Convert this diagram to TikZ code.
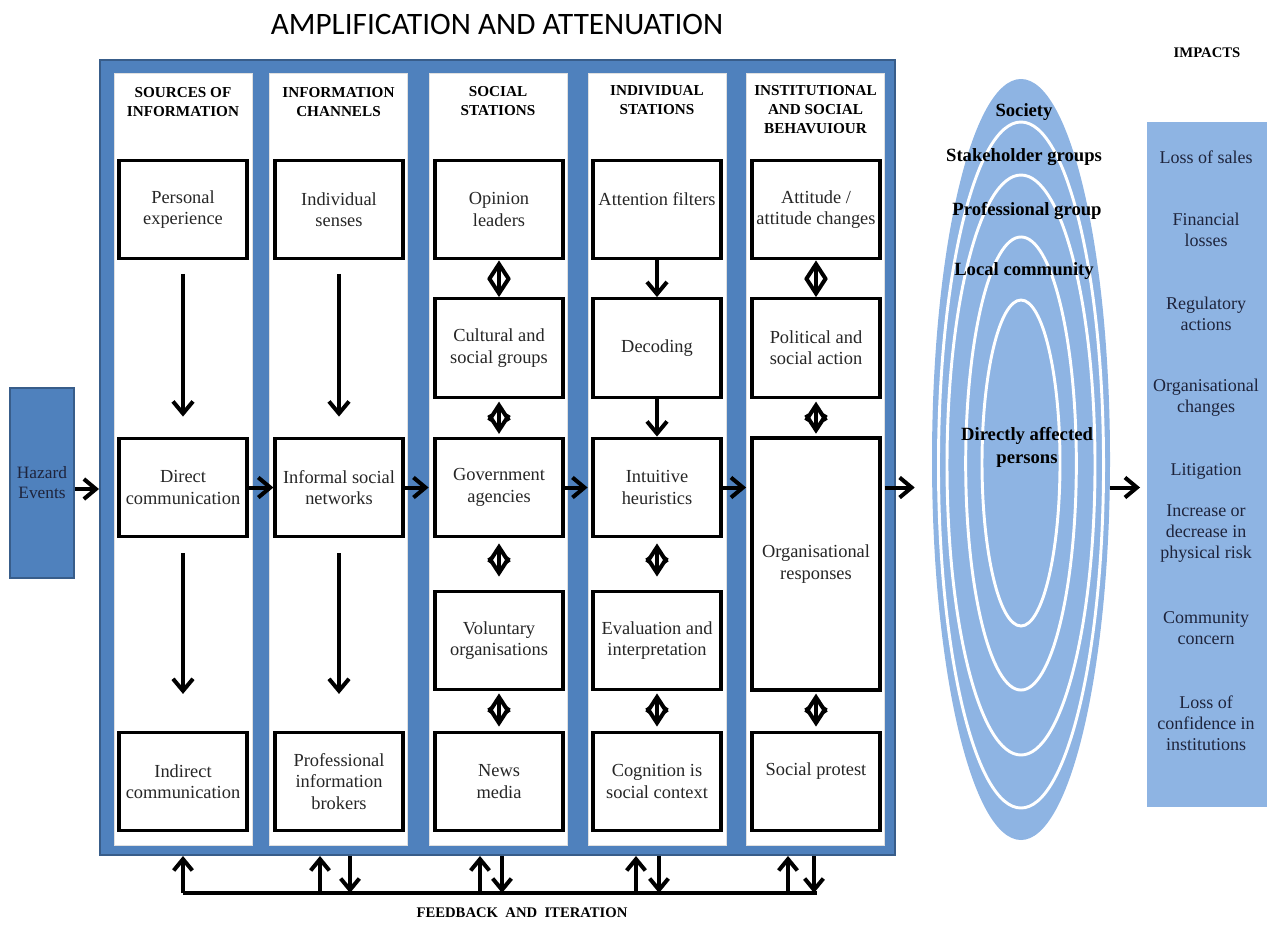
\documentclass[tikz,border=0pt]{standalone}
\usepackage{fontspec}
\setmainfont{Liberation Serif}
\newfontfamily\titlefont{Carlito}
\usetikzlibrary{arrows.meta,shapes.geometric}

\definecolor{frameblue}{RGB}{79,129,189}
\definecolor{frameedge}{RGB}{56,93,138}
\definecolor{ringblue}{RGB}{142,180,227}
\definecolor{inkdark}{RGB}{30,36,60}

\begin{document}
\begin{tikzpicture}[x=0.75pt,y=-0.75pt]

    \tikzset{
      panel/.style={
        fill=white,
        draw=black!12,
        line width=0.6pt,
        inner sep=0pt,
        minimum width=103.5pt,
        minimum height=579pt,
      },
      stage/.style={
        draw=black,
        fill=white,
        line width=2.4pt,
        inner sep=1pt,
        minimum width=96pt,
        minimum height=74pt,
        align=center,
        text=black!85,
        font=\fontsize{13.8}{16}\selectfont,
      },
      colhead/.style={
        anchor=north,
        inner sep=0pt,
        align=center,
        font=\fontsize{11.4}{14.3}\selectfont\bfseries,
      },
      ringlabel/.style={
        inner sep=0pt,
        align=center,
        font=\fontsize{14}{17.25}\selectfont\bfseries,
      },
      impact/.style={
        inner sep=0pt,
        align=center,
        text=inkdark,
        font=\fontsize{13.5}{15.75}\selectfont,
      },
      ringline/.style={draw=white, line width=2.2pt},
      onearrow/.style={-{Straight Barb[length=9pt,width=15pt,line width=3pt]}, line width=3pt},
      twoarrow/.style={{Straight Barb[length=11.5pt,width=15pt,line width=3pt]}-{Straight Barb[length=11.5pt,width=15pt,line width=3pt]}, line width=3pt},
      fbarrow/.style={-{Straight Barb[length=8.5pt,width=14pt,line width=3pt]}, line width=3pt},
    }
    \useasboundingbox (0,0) rectangle (1273,925);

    % title
    \node[anchor=base, inner sep=0pt, font=\titlefont\fontsize{23.4}{28}\selectfont] (title) at (497,34) {AMPLIFICATION AND ATTENUATION};

    % hazard
    \node[draw=frameedge, fill=frameblue, line width=1.2pt, minimum width=48pt, minimum height=142.5pt, inner sep=0pt,
          align=center, text=inkdark, font=\fontsize{13}{15}\selectfont] (hazard) at (42,483) {Hazard\\Events};

    % frame and columns
    \node[draw=frameedge, fill=frameblue, line width=1.5pt, minimum width=596.25pt, minimum height=596.25pt, inner sep=0pt] (frame) at (497.5,457.5) {};
    \node[panel] (p1) at (183,459) {};
    \node[panel] (p2) at (338.5,459) {};
    \node[panel] (p3) at (498,459) {};
    \node[panel] (p4) at (657,459) {};
    \node[panel] (p5) at (815.5,459) {};

    \node[colhead] (h1) at (183,87) {SOURCES OF\\INFORMATION};
    \node[colhead] (h2) at (338.5,87) {INFORMATION\\CHANNELS};
    \node[colhead] (h3) at (498,86) {SOCIAL\\STATIONS};
    \node[colhead] (h4) at (657,85) {INDIVIDUAL\\STATIONS};
    \node[colhead] (h5) at (815.5,85) {INSTITUTIONAL\\AND SOCIAL\\BEHAVUIOUR};

    % sources of information
    \node[stage] (pexp) at (183,209.5) {Personal\\experience};
    \node[stage] (dcom) at (183,487.5) {Direct\\communication};
    \node[stage] (icom) at (183,781.5) {Indirect\\communication};

    % information channels
    \node[stage] (isen) at (339,209.5) {Individual\\senses};
    \node[stage] (inet) at (339,487.5) {Informal social\\networks};
    \node[stage] (pinf) at (339,781.5) {Professional\\information\\brokers};

    % social stations
    \node[stage] (opin) at (499,209.5) {Opinion\\leaders};
    \node[stage] (cult) at (499,348) {Cultural and\\social groups};
    \node[stage] (gova) at (499,487.5) {Government\\agencies};
    \node[stage] (volo) at (499,640.5) {Voluntary\\organisations};
    \node[stage] (news) at (499,781.5) {News\\media};

    % individual stations
    \node[stage, text height=10pt, text depth=16pt] (attf) at (657,209.5) {Attention filters};
    \node[stage] (deco) at (657,348) {Decoding};
    \node[stage] (heur) at (657,487.5) {Intuitive\\heuristics};
    \node[stage] (eval) at (657,640.5) {Evaluation and\\interpretation};
    \node[stage] (cogn) at (657,781.5) {Cognition is\\social context};

    % institutional and social behaviour
    \node[stage] (atti) at (816,209.5) {Attitude /\\attitude changes};
    \node[stage] (poli) at (816,348) {Political and\\social action};
    \node[stage, minimum height=189pt] (orgr) at (816,564) {Organisational\\responses};
    \node[stage, text height=10pt, text depth=19pt] (prot) at (816,781.5) {Social protest};

    % arrows inside the columns
    \draw[onearrow, shorten <=10pt, shorten >=15pt] (pexp.south) -- (dcom.north);
    \draw[onearrow, shorten <=11pt, shorten >=27.5pt] (dcom.south) -- (icom.north);
    \draw[onearrow, shorten <=10pt, shorten >=15pt] (isen.south) -- (inet.north);
    \draw[onearrow, shorten <=11pt, shorten >=27.5pt] (inet.south) -- (pinf.north);

    \draw[twoarrow] (opin.south) -- (cult.north);
    \draw[twoarrow, shorten <=2pt, shorten >=2pt] (cult.south) -- (gova.north);
    \draw[twoarrow, shorten <=3.75pt, shorten >=9.75pt] (gova.south) -- (volo.north);
    \draw[twoarrow, shorten <=1.5pt, shorten >=3pt] (volo.south) -- (news.north);

    \draw[onearrow] (attf.south) -- (deco.north);
    \draw[onearrow] (deco.south) -- (heur.north);
    \draw[twoarrow, shorten <=3.75pt, shorten >=9.75pt] (heur.south) -- (eval.north);
    \draw[twoarrow, shorten <=1.5pt, shorten >=3pt] (eval.south) -- (cogn.north);

    \draw[twoarrow] (atti.south) -- (poli.north);
    \draw[twoarrow, shorten <=2pt, shorten >=2pt] (poli.south) -- (orgr.north);
    \draw[twoarrow, shorten <=1.5pt, shorten >=3pt] (orgr.south) -- (prot.north);

    % arrows across
    \draw[onearrow] ([yshift=-4.5pt]hazard.east) -- ([yshift=-4.5pt]hazard.east -| frame.west);
    \draw[onearrow] (dcom.east) -- (dcom.east -| inet.west);
    \draw[onearrow] (inet.east) -- (inet.east -| p3.west);
    \draw[onearrow] (gova.east) -- (gova.east -| p4.west);
    \draw[onearrow] (heur.east) -- (heur.east -| p5.west);

    % rings
    \node[ellipse, fill=ringblue, minimum width=133.5pt, minimum height=570.75pt, inner sep=0pt] (ring) at (1021,459.5) {};
    \draw[ringline] (1021,465) ellipse [x radius=61.9pt, y radius=257.25pt];
    \draw[ringline] (1021,465) ellipse [x radius=55.5pt, y radius=217.5pt];
    \draw[ringline] (1021,463.5) ellipse [x radius=41.5pt, y radius=169.9pt];
    \draw[ringline] (1021,463) ellipse [x radius=29.25pt, y radius=122.25pt];

    \node[ringlabel] (soc) at (1024,112) {Society};
    \node[ringlabel] (stak) at (1024,157) {Stakeholder groups};
    \node[ringlabel] (prof) at (1027,211) {Professional group};
    \node[ringlabel] (locc) at (1024,271) {Local community};
    \node[ringlabel] (dirp) at (1027,447) {Directly affected\\persons};

    \draw[onearrow] (heur.east -| p5.east) -- ([xshift=-12.75pt]ring.west |- heur.east);

    % impacts
    \node[inner sep=0pt, font=\fontsize{11}{13}\selectfont\bfseries] (imph) at (1207,53) {IMPACTS};
    \node[fill=ringblue, minimum width=90pt, minimum height=513.75pt, inner sep=0pt] (impbox) at (1207,464.5) {};
    \node[impact] (i1) at (1206,157) {Loss of sales};
    \node[impact] (i2) at (1206,229.5) {Financial\\losses};
    \node[impact] (i3) at (1206,313.5) {Regulatory\\actions};
    \node[impact] (i4) at (1206,397.5) {Organisational\\changes};
    \node[impact] (i5) at (1206,471) {Litigation};
    \node[impact] (i6) at (1206,534) {Increase or\\decrease in\\physical risk};
    \node[impact] (i7) at (1206,628.5) {Community\\concern};
    \node[impact] (i8) at (1206,723) {Loss of\\confidence in\\institutions};

    \draw[onearrow] (ring.east |- heur.east) -- ([xshift=-5pt]impbox.west |- heur.east);

    % feedback and iteration
    \coordinate (fbL) at (183,893);
    \coordinate (fbR) at (817,893);
    \draw[line width=3pt] (fbL) -- (fbR);
    \foreach \x in {183,320,480,636,788}
      \draw[fbarrow] (\x,0 |- fbL) -- (\x,0 |- frame.south);
    \foreach \x in {350,502,659,814}
      \draw[fbarrow] (\x,0 |- frame.south) -- (\x,0 |- fbL);
    \node[inner sep=0pt, font=\fontsize{11}{13}\selectfont\bfseries] (fbtext) at (522,913) {FEEDBACK \ AND \ ITERATION};

\end{tikzpicture}
\end{document}
